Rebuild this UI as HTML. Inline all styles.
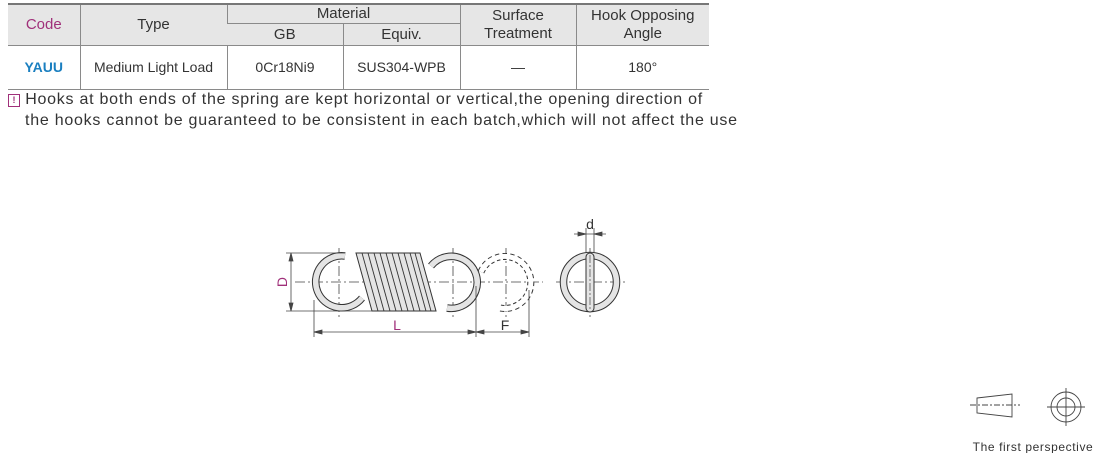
<!DOCTYPE html>
<html><head><meta charset="utf-8"><style>
body{margin:0;width:1110px;height:453px;background:#fff;position:relative;overflow:hidden;font-family:"Liberation Sans",sans-serif;}
table{position:absolute;left:8px;top:3px;border-collapse:collapse;font-size:14px;color:#333;}
td{text-align:center;padding:0;border-left:1px solid #8a8a8a;}
td:first-child{border-left:none;}
.h td{background:#e6e6e6;}
.note{position:absolute;left:8px;font-size:16px;color:#333;letter-spacing:0.75px;white-space:nowrap;}
</style></head><body>
<table>
<colgroup><col style="width:72px"><col style="width:147px"><col style="width:116px"><col style="width:117px"><col style="width:116px"><col style="width:133px"></colgroup>
<tr class="h" style="height:19px;border-top:2px solid #777"><td rowspan="2" style="color:#a0307a;font-size:15px">Code</td><td rowspan="2" style="font-size:15px">Type</td><td colspan="2" style="border-bottom:1px solid #8a8a8a;font-size:15px">Material</td><td rowspan="2" style="font-size:15px;line-height:18px">Surface<br>Treatment</td><td rowspan="2" style="font-size:15px;line-height:18px">Hook Opposing<br>Angle</td></tr>
<tr class="h" style="height:22px;border-bottom:1px solid #8a8a8a"><td style="font-size:15px">GB</td><td style="font-size:15px">Equiv.</td></tr>
<tr style="height:44px;border-bottom:1px solid #8a8a8a"><td style="color:#1a7fc0;font-weight:bold">YAUU</td><td>Medium Light Load</td><td>0Cr18Ni9</td><td>SUS304-WPB</td><td>—</td><td>180°</td></tr>
</table>
<div class="note" style="top:91px"><span style="display:inline-block;width:10px;height:11px;border:1px solid #a0307a;color:#a0307a;font-size:9px;line-height:11px;text-align:center;font-weight:bold;vertical-align:1px;letter-spacing:0">!</span> Hooks at both ends of the spring are kept horizontal or vertical,the opening direction of</div>
<div class="note" style="top:112px;left:25px">the hooks cannot be guaranteed to be consistent in each batch,which will not affect the use</div>
<svg width="1110" height="453" style="position:absolute;left:0;top:0" font-family="Liberation Sans,sans-serif">
<g fill="none" stroke-width="0.8" stroke="#444">
<line x1="295" y1="282" x2="543" y2="282" stroke-dasharray="10,3,2,3"/>
<line x1="556" y1="282" x2="626" y2="282" stroke-dasharray="10,3,2,3"/>
<line x1="339" y1="248" x2="339" y2="318" stroke-dasharray="10,3,2,3"/>
<line x1="453" y1="248" x2="453" y2="318" stroke-dasharray="10,3,2,3"/>
<line x1="506" y1="248" x2="506" y2="318" stroke-dasharray="10,3,2,3"/>
<line x1="590" y1="248" x2="590" y2="318" stroke-dasharray="10,3,2,3"/>
</g>
<g fill="none" stroke-linecap="butt">
<path d="M345 256 A26 26 0 1 0 362 298" stroke="#333" stroke-width="7.5"/>
<path d="M345 256 A26 26 0 1 0 362 298" stroke="#e4e4e4" stroke-width="5.5"/>
<path d="M431 266 A26 26 0 1 1 447 308" stroke="#333" stroke-width="7.5"/>
<path d="M431 266 A26 26 0 1 1 447 308" stroke="#e4e4e4" stroke-width="5.5"/>
<path d="M481 272 A26 26 0 1 1 500 308" stroke="#333" stroke-width="7" stroke-dasharray="4,3"/>
<path d="M481 272 A26 26 0 1 1 500 308" stroke="#fff" stroke-width="5"/>
<circle cx="590" cy="282" r="26.5" stroke="#333" stroke-width="7.5"/>
<circle cx="590" cy="282" r="26.5" stroke="#e4e4e4" stroke-width="5.5"/>
</g>
<rect x="586" y="253" width="8" height="59" rx="4" fill="#e4e4e4" stroke="#333" stroke-width="1"/>
<line x1="590" y1="255" x2="590" y2="310" stroke="#444" stroke-width="0.7" stroke-dasharray="8,2,2,2"/>
<polygon points="356,253 420,253 436,311 372,311" fill="#e4e4e4" stroke="#333" stroke-width="1"/>
<g stroke="#333" stroke-width="0.9">
<line x1="362" y1="253" x2="378" y2="311"/><line x1="368" y1="253" x2="384" y2="311"/>
<line x1="374" y1="253" x2="390" y2="311"/><line x1="380" y1="253" x2="396" y2="311"/>
<line x1="386" y1="253" x2="402" y2="311"/><line x1="392" y1="253" x2="408" y2="311"/>
<line x1="398" y1="253" x2="414" y2="311"/><line x1="404" y1="253" x2="420" y2="311"/>
<line x1="410" y1="253" x2="426" y2="311"/><line x1="415" y1="253" x2="431" y2="311"/>
</g>
<g stroke="#444" stroke-width="0.8" fill="#444">
<line x1="286" y1="253" x2="345" y2="253"/><line x1="286" y1="311" x2="372" y2="311"/>
<line x1="291" y1="253" x2="291" y2="311"/>
<polygon points="291,253 289,261 293,261"/><polygon points="291,311 289,303 293,303"/>
<line x1="314" y1="300" x2="314" y2="337"/><line x1="476" y1="286" x2="476" y2="337"/><line x1="529" y1="290" x2="529" y2="337"/>
<line x1="314" y1="332" x2="529" y2="332"/>
<polygon points="314,332 322,330 322,334"/><polygon points="476,332 468,330 468,334"/>
<polygon points="476,332 484,330 484,334"/><polygon points="529,332 521,330 521,334"/>
<line x1="586" y1="228" x2="586" y2="252"/><line x1="594" y1="228" x2="594" y2="252"/>
<line x1="574" y1="234" x2="606" y2="234"/>
<polygon points="586,234 578,232 578,236"/><polygon points="594,234 602,232 602,236"/>
</g>
<text x="290" y="282" fill="#a0307a" font-size="14" text-anchor="middle" transform="rotate(-90 290 282)" dy="-3">D</text>
<text x="397" y="330" fill="#a0307a" font-size="14" text-anchor="middle">L</text>
<text x="505" y="330" fill="#333" font-size="14" text-anchor="middle">F</text>
<text x="590" y="229" fill="#333" font-size="14" text-anchor="middle">d</text>
<g stroke="#444" stroke-width="0.9" fill="none">
<polygon points="977,398 1012,394 1012,417 977,413"/>
<line x1="970" y1="405" x2="1020" y2="405" stroke-dasharray="6,2,2,2"/>
<circle cx="1066" cy="407" r="15"/><circle cx="1066" cy="407" r="9"/>
<line x1="1047" y1="407" x2="1085" y2="407"/><line x1="1066" y1="388" x2="1066" y2="426"/>
</g>
<text x="1033" y="451" fill="#333" font-size="12" letter-spacing="0.6" text-anchor="middle">The first perspective</text>
</svg>
</body></html>
